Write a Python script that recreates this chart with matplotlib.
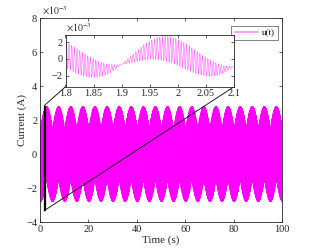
import numpy as np
import matplotlib
matplotlib.use("Agg")
import matplotlib.pyplot as plt
from matplotlib.lines import Line2D

plt.rcParams['font.family'] = ['Liberation Serif', 'DejaVu Serif']
plt.rcParams['mathtext.fontset'] = 'stix'

# ---- data (values in units of 1e-3 A) ----
t_start, t_end = 0.0, 100.0
sample_rate = 5000.0
slow_freq = 4.8          # Hz, slow sinusoid seen in the inset
slow_amp = 1.25          # x1e-3 A
slow_peak_time = 1.97    # s, a max of the slow part
fast_freqs = [208.0, 213.0]   # Hz, beating fast components
fast_amps = [0.78, 0.78]      # x1e-3 A
fast_null_time = 1.9          # s, where fast amplitude vanishes

zoom_x = [1.8, 2.1]
zoom_y = [-3.3, 2.85]

main_xticks = [0, 20, 40, 60, 80, 100]
main_yticks = [-4, -2, 0, 2, 4, 6, 8]
inset_xticks = [1.8, 1.85, 1.9, 1.95, 2.0, 2.05, 2.1]
inset_xticklabels = ['1.8', '1.85', '1.9', '1.95', '2', '2.05', '2.1']
inset_yticks = [-2, 0, 2]

t = np.arange(t_start, t_end, 1.0 / sample_rate)
u = slow_amp * np.cos(2 * np.pi * slow_freq * (t - slow_peak_time))
fc = np.mean(fast_freqs)
df = fast_freqs[1] - fast_freqs[0]
u = u + (fast_amps[0] + fast_amps[1]) * np.abs(np.sin(np.pi * df * (t - fast_null_time))) * np.sin(2 * np.pi * fc * t)

W, H = 313, 250
fig = plt.figure(figsize=(W / 100, H / 100), dpi=100)
fs = 7.5
axcol = '#262626'

ax = fig.add_axes([40 / W, 1 - 222 / H, 242 / W, 204 / H])
ax.plot(t, u, color='#ff00ff', lw=0.6)
ax.set_xlim(0, 100)
ax.set_ylim(-4, 8)
ax.set_xticks(main_xticks)
ax.set_yticks(main_yticks)
ax.tick_params(direction='in', top=True, right=True, labelsize=fs, length=2.5, width=0.5, colors=axcol, pad=2)
for s in ax.spines.values():
    s.set_linewidth(0.6)
    s.set_color(axcol)
ax.set_xlabel('Time (s)', fontsize=fs + 0.5, labelpad=1, color=axcol)
ax.set_ylabel('Current (A)', fontsize=fs + 0.5, labelpad=-1, color=axcol)
ax.text(0.01, 1.005, r'$\times 10^{-3}$', transform=ax.transAxes, fontsize=fs - 0.5, ha='left', va='bottom', color=axcol)

# zoom rectangle
ax.plot([zoom_x[0], zoom_x[1], zoom_x[1], zoom_x[0], zoom_x[0]],
        [zoom_y[0], zoom_y[0], zoom_y[1], zoom_y[1], zoom_y[0]], color='black', lw=0.9)

leg_handle = Line2D([0], [0], color='#ff00ff', lw=1.2, alpha=0.45)
leg = ax.legend([leg_handle], ['u(t)'], loc='upper right', fontsize=fs - 1, frameon=True,
                fancybox=False, edgecolor=axcol, borderpad=0.35, handlelength=2.6,
                handletextpad=0.4, borderaxespad=0, bbox_to_anchor=(0.983, 0.962))
leg.get_frame().set_linewidth(0.5)

# inset
ix0, iy1, ix1, iy0 = 65.5, 35, 234, 86.7
axi = fig.add_axes([ix0 / W, 1 - iy0 / H, (ix1 - ix0) / W, (iy0 - iy1) / H])
mask = (t >= zoom_x[0] - 0.01) & (t <= zoom_x[1] + 0.01)
axi.plot(t[mask], u[mask], color='#ff33ff', lw=0.4, alpha=0.75)
axi.set_xlim(zoom_x)
axi.set_ylim(zoom_y)
axi.set_xticks(inset_xticks)
axi.set_xticklabels(inset_xticklabels)
axi.set_yticks(inset_yticks)
axi.tick_params(direction='in', top=True, right=True, labelsize=fs, length=2.5, width=0.5, colors=axcol, pad=2)
for s in axi.spines.values():
    s.set_linewidth(0.6)
    s.set_color(axcol)
axi.text(0.0, 1.01, r'$\times 10^{-3}$', transform=axi.transAxes, fontsize=fs - 0.5, ha='left', va='bottom', color=axcol)

# connector lines from rectangle to inset corners
inv = ax.transData.inverted()
bl = inv.transform(axi.transAxes.transform((0, 0)))
br = inv.transform(axi.transAxes.transform((1, 0)))
ax.plot([zoom_x[0], bl[0]], [zoom_y[1], bl[1]], color='black', lw=0.6, clip_on=False)
ax.plot([zoom_x[1], br[0]], [zoom_y[0], br[1]], color='black', lw=0.6, clip_on=False)

fig.savefig('out.png', dpi=100)
